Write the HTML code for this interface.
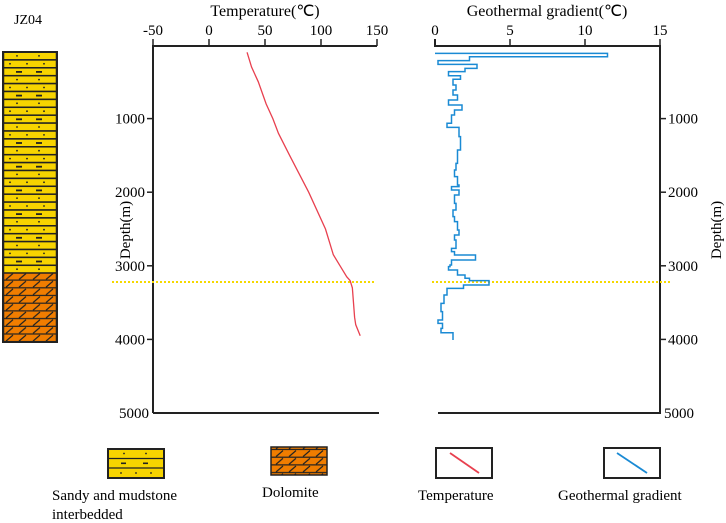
<!DOCTYPE html>
<html><head><meta charset="utf-8"><style>
html,body{margin:0;padding:0;background:#fff;}
svg{display:block;font-family:"Liberation Serif",serif;}
</style></head><body>
<svg id="c" width="726" height="523" viewBox="0 0 726 523">
<defs>
<pattern id="dolo" x="3" y="273" width="27" height="7.7" patternUnits="userSpaceOnUse">
<rect width="27" height="7.7" fill="#f07d00"/>
<line x1="0" y1="7.2" x2="27" y2="7.2" stroke="#222" stroke-width="1.4"/>
<line x1="3" y1="6.5" x2="10" y2="0.5" stroke="#222" stroke-width="1.2"/>
<line x1="16" y1="6.5" x2="23" y2="0.5" stroke="#222" stroke-width="1.2"/>
</pattern>
</defs>
<g id="lith"></g>
<text x="28" y="24" text-anchor="middle" font-size="14">JZ04</text>
<text x="265" y="16" text-anchor="middle" font-size="16">Temperature(℃)</text>
<text x="547" y="16" text-anchor="middle" font-size="16">Geothermal gradient(℃)</text>
<text transform="translate(130,230) rotate(-90)" text-anchor="middle" font-size="15">Depth(m)</text>
<text transform="translate(721,230) rotate(-90)" text-anchor="middle" font-size="15">Depth(m)</text>
<g id="axes"></g>
<g id="series"></g>
<g id="legend">
<g>
<rect x="108" y="449" width="56" height="29" fill="#f7d400" stroke="#222" stroke-width="2"/>
<line x1="108" y1="458.5" x2="164" y2="458.5" stroke="#222" stroke-width="1.2"/>
<line x1="108" y1="468" x2="164" y2="468" stroke="#222" stroke-width="1.2"/>
<circle cx="124" cy="453.5" r="0.9" fill="#222"/><circle cx="146" cy="453.5" r="0.9" fill="#222"/>
<rect x="121" y="462.5" width="5" height="1.6" fill="#222"/><rect x="143" y="462.5" width="5" height="1.6" fill="#222"/>
<circle cx="121" cy="473" r="0.9" fill="#222"/><circle cx="136" cy="473" r="0.9" fill="#222"/><circle cx="151" cy="473" r="0.9" fill="#222"/>
<text x="52" y="500" font-size="15">Sandy and mudstone</text>
<text x="52" y="519" font-size="15">interbedded</text>
</g>
<g>
<rect x="271" y="447" width="56" height="28" fill="url(#dolo)" stroke="#222" stroke-width="1.5"/>
<text x="262" y="497" font-size="15">Dolomite</text>
</g>
<g>
<rect x="436" y="448" width="56" height="30" fill="#fff" stroke="#222" stroke-width="2"/>
<line x1="450" y1="453" x2="479" y2="473" stroke="#e8404f" stroke-width="1.8"/>
<text x="418" y="500" font-size="15">Temperature</text>
</g>
<g>
<rect x="604" y="448" width="56" height="30" fill="#fff" stroke="#222" stroke-width="2"/>
<line x1="617" y1="453" x2="647" y2="473" stroke="#1a8ad4" stroke-width="1.8"/>
<text x="558" y="500" font-size="15">Geothermal gradient</text>
</g>
</g>
</svg>
<script>
const tempTicks=[-50,0,50,100,150];
const gradTicks=[0,5,10,15];
const depthTicks=[1000,2000,3000,4000,5000];
const tempDepth=[100,150,200,300,500,800,1000,1200,1500,2000,2500,2700,2800,2850,3000,3150,3200,3300,3500,3700,3800,3950];
const tempValue=[34,35,36,38,44,51,57,62,72,89,104,108,110,111,117,123,126,128,129,130,131,135];
const gradDepth=[113,159,213,263,317,362,417,466,543,611,679,747,815,883,951,1064,1119,1245,1427,1608,1698,1789,1902,1925,1970,2038,2151,2242,2332,2400,2514,2582,2650,2763,2808,2853,2921,2989,3012,3057,3125,3170,3202,3261,3306,3397,3510,3623,3736,3782,3850,3909];
const gradValue=[11.5,2.3,0.2,2.8,2.0,0.9,1.7,1.2,1.4,1.2,1.5,0.9,1.8,1.3,1.1,0.8,1.6,1.7,1.5,1.4,1.3,1.5,1.6,1.1,1.6,1.3,1.4,1.2,1.3,1.5,1.6,1.3,1.4,1.1,1.3,2.7,1.1,1.0,0.9,1.5,2.0,2.3,3.6,1.9,0.8,0.6,0.4,0.5,0.2,0.5,0.4,1.2];
const gradEndDepth=4008;
const boundaryDepth=3220;

const NS='http://www.w3.org/2000/svg';
const yD=d=>45+d*0.0736;
const xT=t=>209+t*1.12;
const xG=g=>435+g*15;
function mk(tag,attrs,parent){const e=document.createElementNS(NS,tag);for(const k in attrs)e.setAttribute(k,attrs[k]);parent.appendChild(e);return e;}
const axes=document.getElementById('axes');
const series=document.getElementById('series');
const lith=document.getElementById('lith');
const S='#222';
for(let i=0;i<28;i++){const y0=52+i*7.9;
const r=mk('rect',{x:3.5,y:y0,width:53,height:7.9,fill:'#f7d400',stroke:S,'stroke-width':1.5},lith);


const k=i%3;
if(k===2){mk('rect',{x:16,y:y0+3.2,width:6,height:1.8,fill:S},lith);mk('rect',{x:36,y:y0+3.2,width:6,height:1.8,fill:S},lith);}
else if(k===0){mk('circle',{cx:17,cy:y0+3.9,r:0.9,fill:S},lith);mk('circle',{cx:39,cy:y0+3.9,r:0.9,fill:S},lith);}
else{mk('circle',{cx:10,cy:y0+3.9,r:0.9,fill:S},lith);mk('circle',{cx:27,cy:y0+3.9,r:0.9,fill:S},lith);mk('circle',{cx:44,cy:y0+3.9,r:0.9,fill:S},lith);}
}
const dr=mk('rect',{x:3.5,y:273,width:53,height:69,fill:'url(#dolo)',stroke:S,'stroke-width':1.5},lith);


mk('rect',{x:3,y:52,width:54,height:290,fill:'none',stroke:S,'stroke-width':2},lith);
const la=mk('path',{d:`M${xT(-50)},${yD(5000)} V46 H${xT(150)}`,fill:'none',stroke:S,'stroke-width':2},axes);


const lb=mk('line',{x1:xT(-50),y1:yD(5000),x2:379,y2:yD(5000),stroke:S,'stroke-width':2},axes);


tempTicks.forEach(t=>{mk('line',{x1:xT(t),y1:46,x2:xT(t),y2:39,stroke:S,'stroke-width':1.5},axes);
const tx=mk('text',{x:xT(t),y:35,'text-anchor':'middle','font-size':15},axes);tx.textContent=t;

});
depthTicks.forEach(d=>{if(d<5000)mk('line',{x1:xT(-50),y1:yD(d),x2:xT(-50)-6,y2:yD(d),stroke:S,'stroke-width':1.5},axes);
const tx=mk('text',{x:xT(-50)-(d<5000?8:4),y:yD(d)+5,'text-anchor':'end','font-size':15},axes);tx.textContent=d;

});
const ra=mk('path',{d:`M${xG(0)},39 V46 H${xG(15)} V${yD(5000)} H438`,fill:'none',stroke:S,'stroke-width':2},axes);


gradTicks.forEach(g=>{mk('line',{x1:xG(g),y1:46,x2:xG(g),y2:39,stroke:S,'stroke-width':1.5},axes);
const tx=mk('text',{x:xG(g),y:35,'text-anchor':'middle','font-size':15},axes);tx.textContent=g;

});
depthTicks.forEach(d=>{if(d<5000)mk('line',{x1:xG(15),y1:yD(d),x2:xG(15)+6,y2:yD(d),stroke:S,'stroke-width':1.5},axes);
const tx=mk('text',{x:xG(15)+(d<5000?8:4),y:yD(d)+5,'font-size':15},axes);tx.textContent=d;

});
[[112,376],[432,672]].forEach(([a,b])=>{const l=mk('line',{x1:a,y1:yD(boundaryDepth),x2:b,y2:yD(boundaryDepth),stroke:'#f5d800','stroke-width':2,'stroke-dasharray':'2 2'},series);

});
const tp=mk('polyline',{points:tempDepth.map((d,i)=>xT(tempValue[i])+','+yD(d)).join(' '),fill:'none',stroke:'#e8404f','stroke-width':1.3},series);


let p=`M${xG(0)},${yD(gradDepth[0])}`;
gradValue.forEach((g,i)=>{const d1=i+1<gradDepth.length?gradDepth[i+1]:gradEndDepth;p+=` H${xG(g)} V${yD(d1)}`;});
const gp=mk('path',{d:p,fill:'none',stroke:'#1a8ad4','stroke-width':1.5},series);


</script>
</body></html>
